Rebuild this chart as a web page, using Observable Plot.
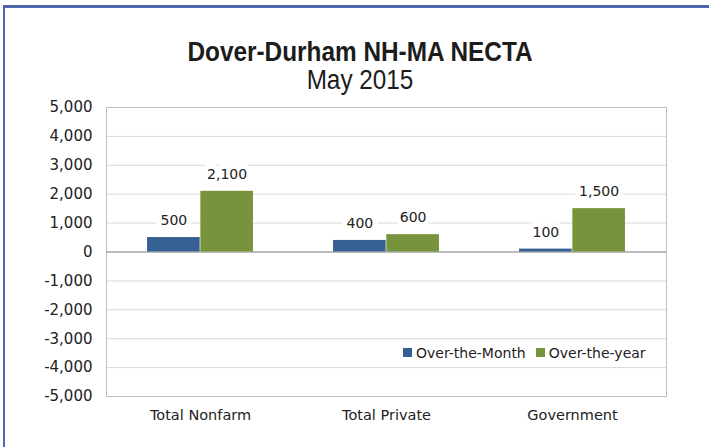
<!DOCTYPE html>
<html>
<head>
<meta charset="utf-8">
<script src="https://cdn.jsdelivr.net/npm/d3@7"></script>
<script src="https://cdn.jsdelivr.net/npm/@observablehq/plot@0.6"></script>
<style>
  html, body { margin: 0; padding: 0; background: #fff; overflow: hidden; }
  #wrap { position: relative; width: 709px; height: 447px; overflow: hidden; }
  #border { position: absolute; left: 3px; top: 5px; width: 800px; height: 600px;
            border-left: 2px solid #5266ad; border-top: 3px solid #5266ad; }
  #title { position: absolute; left: 0; top: 37px; width: 720px; text-align: center;
           font-family: "Liberation Sans", Arial, sans-serif; font-weight: bold;
           font-size: 28px; line-height: 29px; color: #1c1c1c;
           transform: scaleX(0.87); transform-origin: 360px 0; }
  #subtitle { position: absolute; left: 0; top: 66px; width: 720px; text-align: center;
           font-family: "Liberation Sans", Arial, sans-serif;
           font-size: 27px; line-height: 28px; color: #1c1c1c;
           transform: scaleX(0.9); transform-origin: 360px 0; }
  #chart { position: absolute; left: 0; top: 89px; }
  #legend { position: absolute; left: 403px; top: 336px; }
  #legend svg { margin-right: 4px !important; }
  #legend span { margin-right: 10px !important; }
</style>
</head>
<body>
<div id="wrap">
  <div id="border"></div>
  <div id="title">Dover-Durham NH-MA NECTA</div>
  <div id="subtitle">May 2015</div>
  <div id="chart"></div>
  <div id="legend"></div>
</div>
<script>
const categories = ["Total Nonfarm", "Total Private", "Government"];
const series = ["Over-the-Month", "Over-the-year"];
const overTheMonth = [500, 400, 100];
const overTheYear = [2100, 600, 1500];
const yTicks = [-5000, -4000, -3000, -2000, -1000, 0, 1000, 2000, 3000, 4000, 5000];
const colors = ["#376092", "#77933c"];

const rows = categories.flatMap((c, i) => [
  {category: c, series: series[0], value: overTheMonth[i]},
  {category: c, series: series[1], value: overTheYear[i]}
]);
const monthRows = rows.filter(d => d.series === series[0]);
const yearRows = rows.filter(d => d.series === series[1]);

const W = 709, ML = 106, MR = 43;
const band = (W - ML - MR) / categories.length;
const barW = 53.3;
const outer = band / 2 - barW;
const fmt = d => d.toLocaleString("en-US");

const chart = Plot.plot({
  width: W,
  height: 350,
  marginLeft: ML,
  marginRight: MR,
  marginTop: 18,
  marginBottom: 43,
  style: {fontFamily: "DejaVu Sans", color: "#222", background: "transparent"},
  x: {domain: categories, padding: 0, axis: null},
  y: {domain: [-5000, 5000], axis: null},
  color: {domain: series, range: colors},
  marks: [
    Plot.gridY(yTicks, {stroke: "#d9d9d9", strokeOpacity: 1}),
    Plot.frame({stroke: "#bfbfbf"}),
    Plot.ruleY([0], {stroke: "#8a8a8a"}),
    Plot.barY(monthRows, {x: "category", y: "value", fill: "series", insetLeft: outer, insetRight: band / 2}),
    Plot.barY(yearRows, {x: "category", y: "value", fill: "series", insetLeft: band / 2, insetRight: outer}),
    Plot.text(monthRows, {x: "category", y: "value", text: d => fmt(d.value), dx: -barW / 2, dy: -17,
      fill: "#222", stroke: "white", strokeWidth: 10, paintOrder: "stroke", fontSize: 14}),
    Plot.text(yearRows, {x: "category", y: "value", text: d => fmt(d.value), dx: barW / 2, dy: -17,
      fill: "#222", stroke: "white", strokeWidth: 10, paintOrder: "stroke", fontSize: 14}),
    Plot.axisY(yTicks, {tickSize: 0, tickPadding: 14, tickFormat: fmt, fontSize: 15, label: null}),
    Plot.axisX({tickSize: 0, tickPadding: 13, fontSize: 14.5, label: null})
  ]
});
document.getElementById("chart").appendChild(chart);

const legend = chart.legend("color", {
  swatchSize: 9,
  style: {fontFamily: "DejaVu Sans", fontSize: "14px", color: "#222", margin: "0"}
});
document.getElementById("legend").appendChild(legend);
</script>
</body>
</html>
